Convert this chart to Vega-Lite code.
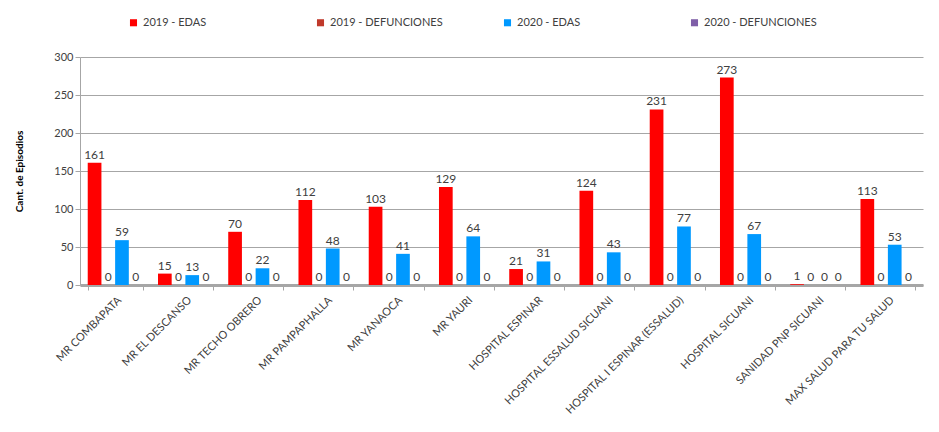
{
  "$schema": "https://vega.github.io/schema/vega-lite/v6.json",
  "width": 843,
  "height": 228,
  "padding": {"left": 14, "top": 17, "right": 10, "bottom": 5},
  "background": "white",
  "config": {
    "font": "Lato",
    "view": {"stroke": null}
  },
  "data": {
    "values": [
      {"c": "MR COMBAPATA", "s": "2019 - EDAS", "v": 161},
      {"c": "MR COMBAPATA", "s": "2019 - DEFUNCIONES", "v": 0},
      {"c": "MR COMBAPATA", "s": "2020 - EDAS", "v": 59},
      {"c": "MR COMBAPATA", "s": "2020 - DEFUNCIONES", "v": 0},
      {"c": "MR EL DESCANSO", "s": "2019 - EDAS", "v": 15},
      {"c": "MR EL DESCANSO", "s": "2019 - DEFUNCIONES", "v": 0},
      {"c": "MR EL DESCANSO", "s": "2020 - EDAS", "v": 13},
      {"c": "MR EL DESCANSO", "s": "2020 - DEFUNCIONES", "v": 0},
      {"c": "MR TECHO OBRERO", "s": "2019 - EDAS", "v": 70},
      {"c": "MR TECHO OBRERO", "s": "2019 - DEFUNCIONES", "v": 0},
      {"c": "MR TECHO OBRERO", "s": "2020 - EDAS", "v": 22},
      {"c": "MR TECHO OBRERO", "s": "2020 - DEFUNCIONES", "v": 0},
      {"c": "MR PAMPAPHALLA", "s": "2019 - EDAS", "v": 112},
      {"c": "MR PAMPAPHALLA", "s": "2019 - DEFUNCIONES", "v": 0},
      {"c": "MR PAMPAPHALLA", "s": "2020 - EDAS", "v": 48},
      {"c": "MR PAMPAPHALLA", "s": "2020 - DEFUNCIONES", "v": 0},
      {"c": "MR YANAOCA", "s": "2019 - EDAS", "v": 103},
      {"c": "MR YANAOCA", "s": "2019 - DEFUNCIONES", "v": 0},
      {"c": "MR YANAOCA", "s": "2020 - EDAS", "v": 41},
      {"c": "MR YANAOCA", "s": "2020 - DEFUNCIONES", "v": 0},
      {"c": "MR YAURI", "s": "2019 - EDAS", "v": 129},
      {"c": "MR YAURI", "s": "2019 - DEFUNCIONES", "v": 0},
      {"c": "MR YAURI", "s": "2020 - EDAS", "v": 64},
      {"c": "MR YAURI", "s": "2020 - DEFUNCIONES", "v": 0},
      {"c": "HOSPITAL ESPINAR", "s": "2019 - EDAS", "v": 21},
      {"c": "HOSPITAL ESPINAR", "s": "2019 - DEFUNCIONES", "v": 0},
      {"c": "HOSPITAL ESPINAR", "s": "2020 - EDAS", "v": 31},
      {"c": "HOSPITAL ESPINAR", "s": "2020 - DEFUNCIONES", "v": 0},
      {"c": "HOSPITAL ESSALUD SICUANI", "s": "2019 - EDAS", "v": 124},
      {"c": "HOSPITAL ESSALUD SICUANI", "s": "2019 - DEFUNCIONES", "v": 0},
      {"c": "HOSPITAL ESSALUD SICUANI", "s": "2020 - EDAS", "v": 43},
      {"c": "HOSPITAL ESSALUD SICUANI", "s": "2020 - DEFUNCIONES", "v": 0},
      {"c": "HOSPITAL I ESPINAR (ESSALUD)", "s": "2019 - EDAS", "v": 231},
      {"c": "HOSPITAL I ESPINAR (ESSALUD)", "s": "2019 - DEFUNCIONES", "v": 0},
      {"c": "HOSPITAL I ESPINAR (ESSALUD)", "s": "2020 - EDAS", "v": 77},
      {"c": "HOSPITAL I ESPINAR (ESSALUD)", "s": "2020 - DEFUNCIONES", "v": 0},
      {"c": "HOSPITAL SICUANI", "s": "2019 - EDAS", "v": 273},
      {"c": "HOSPITAL SICUANI", "s": "2019 - DEFUNCIONES", "v": 0},
      {"c": "HOSPITAL SICUANI", "s": "2020 - EDAS", "v": 67},
      {"c": "HOSPITAL SICUANI", "s": "2020 - DEFUNCIONES", "v": 0},
      {"c": "SANIDAD PNP SICUANI", "s": "2019 - EDAS", "v": 1},
      {"c": "SANIDAD PNP SICUANI", "s": "2019 - DEFUNCIONES", "v": 0},
      {"c": "SANIDAD PNP SICUANI", "s": "2020 - EDAS", "v": 0},
      {"c": "SANIDAD PNP SICUANI", "s": "2020 - DEFUNCIONES", "v": 0},
      {"c": "MAX SALUD PARA TU SALUD", "s": "2019 - EDAS", "v": 113},
      {"c": "MAX SALUD PARA TU SALUD", "s": "2019 - DEFUNCIONES", "v": 0},
      {"c": "MAX SALUD PARA TU SALUD", "s": "2020 - EDAS", "v": 53},
      {"c": "MAX SALUD PARA TU SALUD", "s": "2020 - DEFUNCIONES", "v": 0}
    ]
  },
  "encoding": {
    "x": {
      "field": "c", "type": "nominal", "sort": null,
      "scale": {"paddingInner": 0.22, "paddingOuter": 0.11},
      "axis": {
        "title": null, "labelAngle": -45, "labelFontSize": 11, "labelColor": "#404040",
        "domainColor": "#a6a6a6", "domainWidth": 3, "tickColor": "#a6a6a6", "tickBand": "extent", "tickSize": 5,
        "labelPadding": 4, "labelLimit": 220
      }
    },
    "xOffset": {"field": "s", "type": "nominal", "sort": ["2019 - EDAS", "2019 - DEFUNCIONES", "2020 - EDAS", "2020 - DEFUNCIONES"]},
    "y": {
      "field": "v", "type": "quantitative",
      "scale": {"domain": [0, 300]},
      "axis": {
        "title": "Cant. de Episodios", "titleFontSize": 10, "titleFontWeight": "bold", "titleColor": "#000000",
        "titlePadding": 29,
        "values": [0, 50, 100, 150, 200, 250, 300],
        "labelFontSize": 11, "labelColor": "#404040",
        "gridColor": "#a6a6a6", "gridWidth": 1,
        "domainColor": "#a6a6a6", "tickColor": "#a6a6a6", "tickSize": 5
      }
    }
  },
  "layer": [
    {
      "mark": {"type": "bar"},
      "encoding": {
        "color": {
          "field": "s", "type": "nominal",
          "scale": {
            "domain": ["2019 - EDAS", "2019 - DEFUNCIONES", "2020 - EDAS", "2020 - DEFUNCIONES"],
            "range": ["#ff0000", "#c0392b", "#0099ff", "#7f5fa8"]
          },
          "legend": {
            "title": null, "orient": "none", "legendX": 48, "legendY": -40,
            "direction": "horizontal", "columns": 4,
            "gridAlign": "all", "columnPadding": 59,
            "symbolType": "square", "symbolSize": 50, "symbolStrokeWidth": 0,
            "labelFontSize": 11, "labelColor": "#404040"
          }
        }
      }
    },
    {
      "mark": {"type": "text", "dy": -8, "fontSize": 12, "color": "#404040"},
      "encoding": {"text": {"field": "v", "type": "quantitative"}}
    }
  ]
}
